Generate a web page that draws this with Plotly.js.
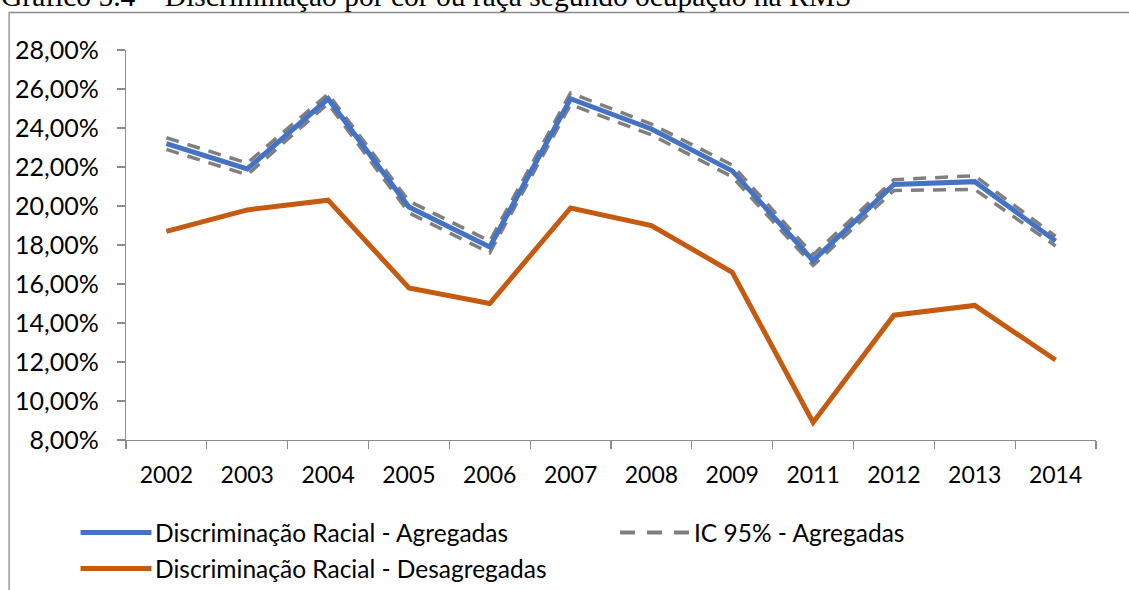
<!DOCTYPE html>
<html>
<head>
<meta charset="utf-8">
<script src="https://cdn.plot.ly/plotly-3.0.1.min.js"></script>
<style>
  html, body { margin: 0; padding: 0; background: #fff; }
  #chart { width: 1129px; height: 590px; }
</style>
</head>
<body>
<div id="chart"></div>
<script>
// Years on the category axis
const years = ['2002', '2003', '2004', '2005', '2006', '2007', '2008', '2009', '2011', '2012', '2013', '2014'];

// Racial discrimination estimates (%)
const agregadas = [23.2, 21.9, 25.5, 19.95, 17.9, 25.5, 23.95, 21.8, 17.2, 21.1, 21.25, 18.2];
const icSuperior = [23.5, 22.2, 25.75, 20.25, 18.2, 25.8, 24.2, 22.1, 17.5, 21.35, 21.55, 18.45];
const icInferior = [22.9, 21.6, 25.25, 19.65, 17.6, 25.2, 23.65, 21.5, 16.95, 20.8, 20.85, 17.95];
const desagregadas = [18.7, 19.8, 20.3, 15.8, 15.0, 19.9, 19.0, 16.6, 8.9, 14.4, 14.9, 12.1];

// Series names
const nomeAgregadas = 'Discriminação Racial - Agregadas';
const nomeIC = 'IC 95% - Agregadas';
const nomeDesagregadas = 'Discriminação Racial - Desagregadas';

const titulo = 'Gráfico 5.4 – Discriminação por cor ou raça segundo ocupação na RMS';

// Colours
const azul = '#4472C4';
const laranja = '#C55A11';
const cinza = '#7F7F7F';
const eixo = '#8C8C8C';

// Plot area geometry (pixels)
const W = 1129, H = 590;
const M = { l: 125.5, r: 32.5, t: 50, b: 150 };
const PW = W - M.l - M.r, PH = H - M.t - M.b;
const px = x => (x - M.l) / PW;
const py = y => (H - M.b - y) / PH;

const dashIC = '13px,9px';

const traces = [
  { x: years, y: icSuperior, name: nomeIC, type: 'scatter', mode: 'lines',
    line: { color: cinza, width: 3.5, dash: dashIC }, hoverinfo: 'skip' },
  { x: years, y: icInferior, name: nomeIC, type: 'scatter', mode: 'lines',
    line: { color: cinza, width: 3.5, dash: dashIC }, hoverinfo: 'skip' },
  { x: years, y: agregadas, name: nomeAgregadas, type: 'scatter', mode: 'lines',
    line: { color: azul, width: 5 } },
  { x: years, y: desagregadas, name: nomeDesagregadas, type: 'scatter', mode: 'lines',
    line: { color: laranja, width: 5 } }
];

const familia = 'Lato, "Open Sans", sans-serif';
const fonteX = { family: familia, size: 23, color: '#000' };
const fonteY = { family: familia, size: 25, color: '#000' };
const fonteLeg = { family: familia, size: 24.5, color: '#000' };

// Hand-placed legend: sample line + label per series
const legenda = [
  { nome: nomeAgregadas, cor: azul, dash: 'solid', w: 5, x0: 80, x1: 151, y: 532.5, tx: 153 },
  { nome: nomeIC, cor: cinza, dash: '15px,12px', w: 4, x0: 620, x1: 690, y: 532.5, tx: 692 },
  { nome: nomeDesagregadas, cor: laranja, dash: 'solid', w: 5, x0: 80, x1: 151, y: 568.5, tx: 153 }
];

const shapes = [
  // chart frame
  { type: 'path', xref: 'paper', yref: 'paper',
    path: `M ${px(8.5)} ${py(600)} L ${px(8.5)} ${py(12.5)} L ${px(1140)} ${py(12.5)}`,
    line: { color: '#8A8A8A', width: 1.3 } }
];
const annotations = [
  { text: titulo, xref: 'paper', yref: 'paper', x: px(-2), y: py(-4.5), xanchor: 'left', yanchor: 'middle',
    showarrow: false, font: { family: '"Liberation Serif", "Times New Roman", serif', size: 29.5, color: '#000' } }
];
legenda.forEach(it => {
  shapes.push({ type: 'line', xref: 'paper', yref: 'paper',
    x0: px(it.x0), x1: px(it.x1), y0: py(it.y), y1: py(it.y),
    line: { color: it.cor, width: it.w, dash: it.dash } });
  annotations.push({ text: it.nome, xref: 'paper', yref: 'paper', x: px(it.tx), y: py(it.y),
    xanchor: 'left', yanchor: 'middle', showarrow: false, font: fonteLeg });
});

const layout = {
  width: W, height: H,
  margin: M,
  paper_bgcolor: '#fff', plot_bgcolor: '#fff',
  separators: ',.',
  showlegend: false,
  font: fonteX,
  xaxis: {
    type: 'category', range: [-0.5, years.length - 0.5],
    showline: true, linecolor: eixo, linewidth: 1.3,
    ticks: 'outside', tickson: 'boundaries', ticklen: 8, tickcolor: eixo, tickwidth: 1.3,
    showgrid: false, zeroline: false, fixedrange: true,
    tickfont: fonteX, ticklabelstandoff: 14
  },
  yaxis: {
    range: [8, 28], dtick: 2, tick0: 8,
    tickformat: '.2f', ticksuffix: '%',
    showline: true, linecolor: eixo, linewidth: 1.3,
    ticks: 'outside', ticklen: 8, tickcolor: eixo, tickwidth: 1.3,
    showgrid: false, zeroline: false, fixedrange: true,
    tickfont: fonteY, ticklabelstandoff: 13
  },
  shapes: shapes,
  annotations: annotations
};

Plotly.newPlot('chart', traces, layout, { displayModeBar: false, staticPlot: true });
</script>
</body>
</html>
